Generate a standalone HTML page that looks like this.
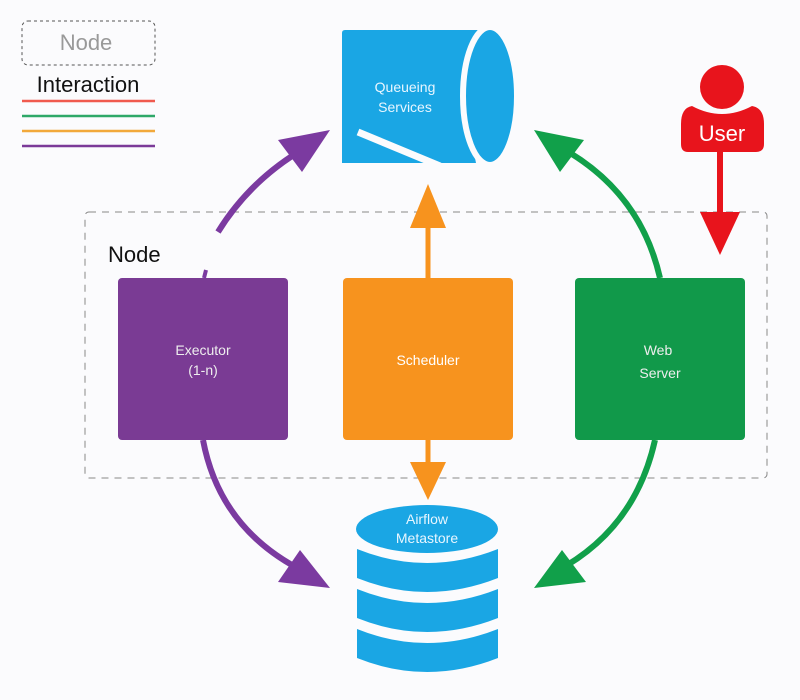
<!DOCTYPE html>
<html><head><meta charset="utf-8"><style>
html,body{margin:0;padding:0;background:#fbfbfd;}
svg{display:block;font-family:"Liberation Sans",sans-serif;}
</style></head><body>
<svg width="800" height="700" viewBox="0 0 800 700" xmlns="http://www.w3.org/2000/svg">
<rect width="800" height="700" fill="#fbfbfd"/>
<!-- legend -->
<rect x="22" y="21" width="133" height="44" rx="6" fill="none" stroke="#555" stroke-width="1" stroke-dasharray="3,3"/>
<text x="86" y="50" font-size="22" fill="#999" text-anchor="middle">Node</text>
<text x="88" y="92" font-size="22" fill="#111" text-anchor="middle">Interaction</text>
<line x1="22" y1="101" x2="155" y2="101" stroke="#f05a4e" stroke-width="2.5"/>
<line x1="22" y1="116" x2="155" y2="116" stroke="#2ea868" stroke-width="2.5"/>
<line x1="22" y1="131" x2="155" y2="131" stroke="#f2a93b" stroke-width="2.5"/>
<line x1="22" y1="146" x2="155" y2="146" stroke="#7b3a98" stroke-width="2.5"/>
<!-- node dashed -->
<rect x="85" y="212" width="682" height="266" rx="4" fill="none" stroke="#888" stroke-width="1" stroke-dasharray="7,6"/>
<text x="108" y="262" font-size="22" fill="#111">Node</text>
<!-- queue cylinder -->
<path d="M345 30 L478 30 Q462 96 476 163 L342 163 L342 33 Q342 30 345 30 Z" fill="#1aa6e4"/>
<ellipse cx="490" cy="96" rx="27" ry="69" fill="#1aa6e4" stroke="#fbfbfd" stroke-width="6"/>
<line x1="358" y1="132" x2="440" y2="166" stroke="#fbfbfd" stroke-width="7"/>
<text x="405" y="92" font-size="14" fill="#e8f6ff" text-anchor="middle">Queueing</text>
<text x="405" y="112" font-size="14" fill="#e8f6ff" text-anchor="middle">Services</text>
<!-- boxes -->
<rect x="118" y="278" width="170" height="162" rx="4" fill="#7a3b94"/>
<rect x="343" y="278" width="170" height="162" rx="4" fill="#f7931e"/>
<rect x="575" y="278" width="170" height="162" rx="4" fill="#11994a"/>
<text x="203" y="355" font-size="14" fill="#eee" text-anchor="middle">Executor</text>
<text x="203" y="375" font-size="14" fill="#eee" text-anchor="middle">(1-n)</text>
<text x="428" y="365" font-size="14" fill="#fff" text-anchor="middle">Scheduler</text>
<text x="658" y="355" font-size="14" fill="#eee" text-anchor="middle">Web</text>
<text x="660" y="378" font-size="14" fill="#eee" text-anchor="middle">Server</text>
<!-- orange arrows -->
<line x1="428" y1="278" x2="428" y2="225" stroke="#f7931e" stroke-width="5"/>
<polygon points="428,184 410,228 446,228" fill="#f7931e"/>
<line x1="428" y1="440" x2="428" y2="470" stroke="#f7931e" stroke-width="5"/>
<polygon points="428,500 410,462 446,462" fill="#f7931e"/>
<!-- purple -->
<path d="M218 232 Q250 180 305 148" fill="none" stroke="#7b3aa0" stroke-width="6"/>
<polygon points="330,130 278,140 302,172" fill="#7b3aa0"/>
<line x1="206" y1="270" x2="204" y2="278" stroke="#7b3aa0" stroke-width="4"/>
<path d="M203 440 Q220 530 305 572" fill="none" stroke="#7b3aa0" stroke-width="6"/>
<polygon points="330,588 300,550 278,582" fill="#7b3aa0"/>
<!-- green -->
<path d="M660 278 Q640 190 558 146" fill="none" stroke="#11a04a" stroke-width="6"/>
<polygon points="534,130 584,140 560,172" fill="#11a04a"/>
<path d="M655 440 Q635 530 555 572" fill="none" stroke="#11a04a" stroke-width="6"/>
<polygon points="534,588 562,550 586,582" fill="#11a04a"/>
<!-- DB -->
<path d="M357 549 Q427 577 498 549 L498 578 Q427 606 357 578 Z" fill="#1aa6e4"/>
<path d="M357 589 Q427 617 498 589 L498 618 Q427 646 357 618 Z" fill="#1aa6e4"/>
<path d="M357 629 Q427 657 498 629 L498 658 Q427 686 357 658 Z" fill="#1aa6e4"/>
<ellipse cx="427" cy="529" rx="71" ry="24" fill="#1aa6e4"/>
<text x="427" y="524" font-size="14" fill="#e8f6ff" text-anchor="middle">Airflow</text>
<text x="427" y="543" font-size="14" fill="#e8f6ff" text-anchor="middle">Metastore</text>
<!-- user -->
<circle cx="722" cy="87" r="22" fill="#e8141c"/>
<path d="M692 106 Q722 122 752 106 Q764 108 764 124 L764 144 Q764 152 756 152 L688 152 Q681 152 681 144 L681 124 Q681 108 692 106 Z" fill="#e8141c"/>
<text x="722" y="141" font-size="22" fill="#fff" text-anchor="middle">User</text>
<line x1="720" y1="150" x2="720" y2="218" stroke="#e8141c" stroke-width="6"/>
<polygon points="720,255 700,212 740,212" fill="#e8141c"/>
</svg>
</body></html>
